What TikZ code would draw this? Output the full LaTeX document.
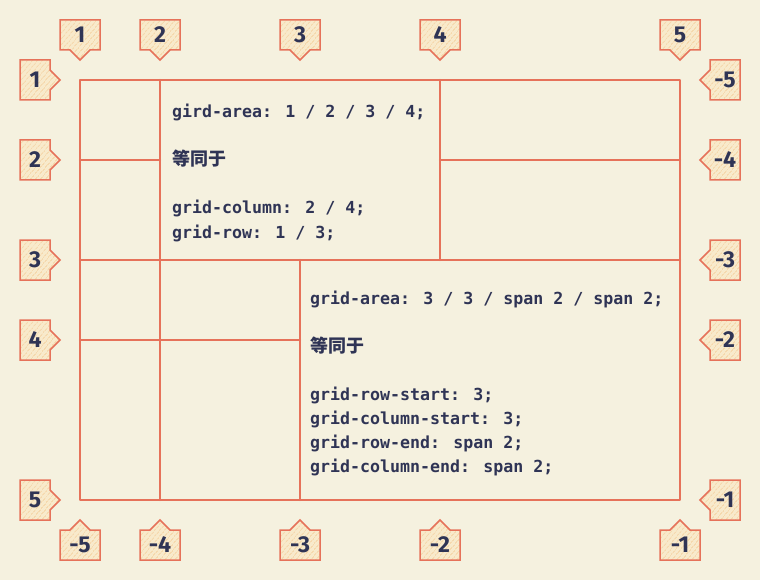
\documentclass[tikz,border=0pt]{standalone}
\usepackage{fontspec}
\setmainfont{DejaVu Sans}
\newfontfamily\codefont{DejaVu Sans Mono}
\newfontfamily\cjkfont{Noto Sans CJK SC}
\newfontfamily\labfont{Fira Sans}
\usetikzlibrary{shapes.callouts,patterns.meta}
\definecolor{bg}{HTML}{F5F1DF}
\definecolor{stroke}{HTML}{E6725A}
\definecolor{ink}{HTML}{2F3455}
\definecolor{peach}{HTML}{F8EACB}
\definecolor{hatch}{HTML}{F4D09E}
\begin{document}
\begin{tikzpicture}[x=1pt,y=-1pt,
  gridline/.style={draw=stroke,line width=2.2pt,line cap=round,line join=round},
  lab/.style={rectangle callout, draw=stroke, line width=1.5pt, preaction={fill=peach},
    pattern={Lines[angle=50,distance=4pt,line width=1.2pt]}, pattern color=hatch,
    callout pointer width=20pt, inner sep=0pt, text=ink,
    font=\labfont\bfseries\fontsize{23}{23}\selectfont},
  hlab/.style={lab, minimum width=40pt, minimum height=30pt},
  vlab/.style={lab, minimum width=30pt, minimum height=40pt},
  code/.style={anchor=base west, inner sep=0pt, text=ink, font=\codefont\bfseries\fontsize{16.6}{24}\selectfont},
  cjk/.style={anchor=base west, inner sep=0pt, text=ink, font=\cjkfont\bfseries\fontsize{18}{24}\selectfont}]
\fill[bg] (0,0) rectangle (760,580);
\useasboundingbox (0,0) rectangle (760,580);

% grid corners and lines
\coordinate (tl) at (80,80);
\coordinate (br) at (680,500);
\draw[gridline] (tl) rectangle (br);
\coordinate (c2t) at (160,80);  \coordinate (c2b) at (160,500);
\draw[gridline] (c2t) -- (c2b);
\coordinate (c4t) at (440,80);  \coordinate (c4b) at (440,260);
\draw[gridline] (c4t) -- (c4b);
\coordinate (c3t) at (300,260); \coordinate (c3b) at (300,500);
\draw[gridline] (c3t) -- (c3b);
\coordinate (r2a) at (80,160);  \coordinate (r2b) at (160,160);
\draw[gridline] (r2a) -- (r2b);
\coordinate (r2c) at (440,160); \coordinate (r2d) at (680,160);
\draw[gridline] (r2c) -- (r2d);
\coordinate (r3a) at (80,260);  \coordinate (r3b) at (680,260);
\draw[gridline] (r3a) -- (r3b);
\coordinate (r4a) at (80,340);  \coordinate (r4b) at (300,340);
\draw[gridline] (r4a) -- (r4b);

% top labels
\node[hlab, callout absolute pointer={(80,60)}]  (t1) at (80,35)  {1};
\node[hlab, callout absolute pointer={(160,60)}] (t2) at (160,35) {2};
\node[hlab, callout absolute pointer={(300,60)}] (t3) at (300,35) {3};
\node[hlab, callout absolute pointer={(440,60)}] (t4) at (440,35) {4};
\node[hlab, callout absolute pointer={(680,60)}] (t5) at (680,35) {5};
% bottom labels
\node[hlab, callout absolute pointer={(80,520)}]  (b5) at (80,545)  {-5};
\node[hlab, callout absolute pointer={(160,520)}] (b4) at (160,545) {-4};
\node[hlab, callout absolute pointer={(300,520)}] (b3) at (300,545) {-3};
\node[hlab, callout absolute pointer={(440,520)}] (b2) at (440,545) {-2};
\node[hlab, callout absolute pointer={(680,520)}] (b1) at (680,545) {-1};
% left labels
\node[vlab, callout absolute pointer={(60,80)}]  (l1) at (35,80)  {1};
\node[vlab, callout absolute pointer={(60,160)}] (l2) at (35,160) {2};
\node[vlab, callout absolute pointer={(60,260)}] (l3) at (35,260) {3};
\node[vlab, callout absolute pointer={(60,340)}] (l4) at (35,340) {4};
\node[vlab, callout absolute pointer={(60,500)}] (l5) at (35,500) {5};
% right labels
\node[vlab, callout absolute pointer={(700,80)}]  (q5) at (725,80)  {-5};
\node[vlab, callout absolute pointer={(700,160)}] (q4) at (725,160) {-4};
\node[vlab, callout absolute pointer={(700,260)}] (q3) at (725,260) {-3};
\node[vlab, callout absolute pointer={(700,340)}] (q2) at (725,340) {-2};
\node[vlab, callout absolute pointer={(700,500)}] (q1) at (725,500) {-1};

% area 1 text
\node[code] (a1l1) at (172,118) {gird-area: 1 / 2 / 3 / 4;};
\node[cjk]  (a1l2) at (172,166) {等同于};
\node[code] (a1l3) at (172,214) {grid-column: 2 / 4;};
\node[code] (a1l4) at (172,238) {grid-row: 1 / 3;};
% area 2 text
\node[code] (a2l1) at (310,304) {grid-area: 3 / 3 / span 2 / span 2;};
\node[cjk]  (a2l2) at (310,352) {等同于};
\node[code] (a2l3) at (310,400) {grid-row-start: 3;};
\node[code] (a2l4) at (310,424) {grid-column-start: 3;};
\node[code] (a2l5) at (310,448) {grid-row-end: span 2;};
\node[code] (a2l6) at (310,472) {grid-column-end: span 2;};
\end{tikzpicture}
\end{document}
